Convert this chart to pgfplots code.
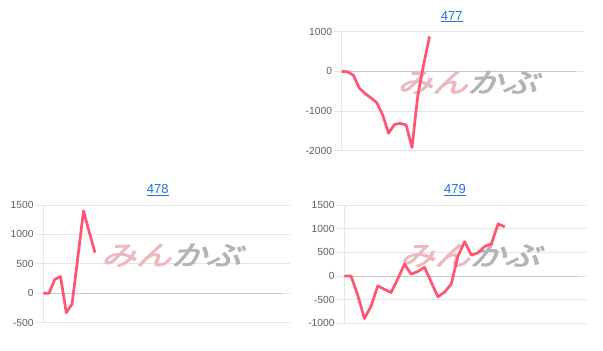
\documentclass[border=0pt]{standalone}
\usepackage{pgfplots}
\pgfplotsset{compat=1.18}
\usepackage{fontspec}
\setmainfont{Liberation Sans}
\newfontfamily\jp[FakeSlant=0.3,FakeBold=3]{Noto Sans CJK JP}
\definecolor{linec}{RGB}{255,85,115}
\definecolor{tickc}{RGB}{95,95,95}
\definecolor{gridc}{RGB}{230,230,230}
\definecolor{zeroc}{RGB}{200,200,200}
\definecolor{titlec}{RGB}{30,115,215}
\definecolor{wmpink}{RGB}{236,186,190}
\definecolor{wmgray}{RGB}{180,180,180}
\newcommand{\wm}{\scalebox{1.3}[1.0]{\jp\fontsize{27}{27}\selectfont\textcolor{wmpink}{みん}\textcolor{wmgray}{かぶ}}}
\pgfplotsset{
  panel/.style={
    scale only axis,
    axis line style={draw=none},
    xtick={0}, xticklabels={}, xmajorgrids, xtick style={draw=none},
    ymajorgrids, grid style={gridc, line width=0.8pt},
    major tick length=8pt, tick align=outside,
    ytick style={gridc, line width=0.8pt},
    yticklabel style={font=\fontsize{10.3}{12}\selectfont, text=tickc, inner sep=1.5pt},
    /pgf/number format/assume math mode=true,
    /pgf/number format/set thousands separator={},
    extra y ticks={0},
    extra y tick style={grid style={zeroc, line width=0.8pt}, tick style={zeroc, line width=0.8pt}},
    clip=false,
  },
  dl/.style={linec, line width=2.7pt, line join=round, mark=none},
}
\tikzset{
  ttl/.style={anchor=base, text=titlec, font=\fontsize{13}{15}\selectfont, inner sep=0pt, yshift=11.7pt},
}
\begin{document}
\begin{tikzpicture}
\path[use as bounding box] (0,0) rectangle (603pt,351pt);
% 477
\begin{axis}[panel, at={(341.7pt,200.3pt)}, anchor=south west, width=234.3pt, height=119pt,
  xmin=0, xmax=40, ymin=-2000, ymax=1000, ytick={-2000,-1000,1000}]
\node[inner sep=0] at (rel axis cs:0.535,0.573) {\wm};
\addplot[dl] coordinates {(0,0) (1,-10) (2,-100) (3,-420) (4,-560) (5,-670) (6,-790) (7,-1100) (8,-1560) (9,-1340) (10,-1310) (11,-1350) (12,-1920) (13,-600) (14,180) (15,880)};
\node[ttl] at (rel axis cs:0.4695,1) {\underline{477}};
\end{axis}
% 478
\begin{axis}[panel, at={(43.3pt,28.3pt)}, anchor=south west, width=238.4pt, height=117.7pt,
  xmin=0, xmax=41.5, ymin=-500, ymax=1500, ytick={-500,500,1000,1500}]
\node[inner sep=0] at (rel axis cs:0.535,0.573) {\wm};
\addplot[dl] coordinates {(0,0) (1,0) (2,236) (3,285) (4,-330) (5,-185) (6,600) (7,1400) (8,1040) (9,690)};
\node[ttl] at (rel axis cs:0.48,1) {\underline{478}};
\end{axis}
% 479
\begin{axis}[panel, at={(344.3pt,27.7pt)}, anchor=south west, width=234pt, height=118.3pt,
  xmin=0, xmax=35, ymin=-1000, ymax=1500, ytick={-1000,-500,500,1000,1500}]
\node[inner sep=0] at (rel axis cs:0.535,0.573) {\wm};
\addplot[dl] coordinates {(0,0) (1,0) (2,-400) (3,-900) (4,-640) (5,-210) (6,-280) (7,-350) (8,-60) (9,250) (10,40) (11,95) (12,185) (13,-130) (14,-440) (15,-340) (16,-170) (17,420) (18,725) (19,440) (20,490) (21,625) (22,680) (23,1100) (24,1040)};
\node[ttl] at (rel axis cs:0.473,1) {\underline{479}};
\end{axis}
\end{tikzpicture}
\end{document}
